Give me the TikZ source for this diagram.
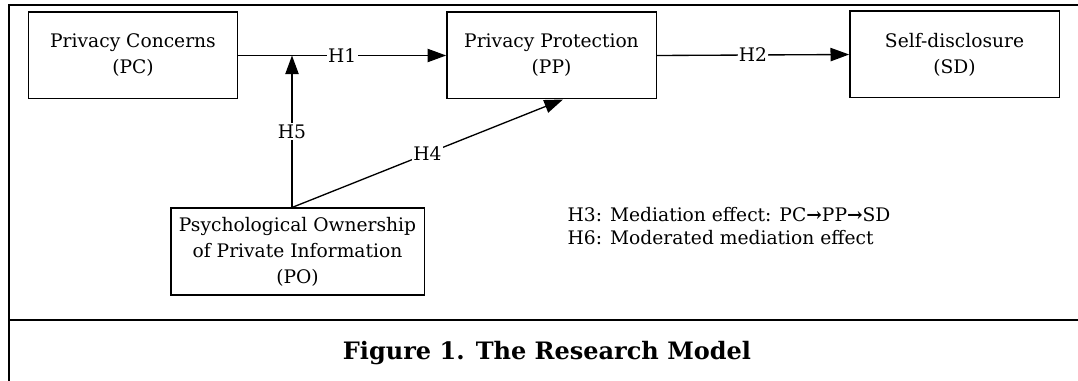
\documentclass[tikz,border=0pt]{standalone}
\usepackage{fontspec}
\setmainfont{DejaVu Serif}
\usetikzlibrary{arrows.meta,calc}

\begin{document}
\begin{tikzpicture}[x=0.75pt, y=-0.75pt, >={Triangle[length=14pt,width=10pt]},
  box/.style={draw, line width=1pt, align=center, inner sep=0pt,
    minimum width=157pt, minimum height=65pt, font=\fontsize{14}{19.5}\selectfont},
  hyp/.style={fill=white, inner sep=1pt, font=\fontsize{14}{16}\selectfont},
  link/.style={->, line width=1pt},
  frame/.style={line width=1.6pt}]
  \useasboundingbox (0,0) rectangle (1078,381);

  % Outer frame and caption rule
  \draw[frame] (1078,5) -- (9,5) -- (9,381);
  \draw[frame] (9,320) -- (1078,320);

  % Constructs
  \node[box] (pc) at (133,55.5) {Privacy Concerns\\(PC)};
  \node[box] (pp) at (551.5,55.5) {Privacy Protection\\(PP)};
  \node[box] (sd) at (954.5,54.5) {Self-disclosure\\(SD)};
  \node[box, minimum width=190pt] (po) at (297.5,251.5)
    {Psychological Ownership\\of Private Information\\(PO)};

  % Moderation point on H1 and source point on PO
  \coordinate (mod) at (292,55.5);
  \coordinate (pofrom) at (po.north -| mod);

  % Hypothesised paths
  \draw[link] (pc.east) -- node[hyp] {H1} (pp.west);
  \draw[link] (pp.east) -- node[hyp] {H2} (sd.west);
  \draw[link] (pofrom) -- node[hyp] {H5} (mod);
  \draw[link] (pofrom) -- node[hyp] {H4} ($(pp.south)+(11.5,0)$);

  % Notes
  \node[anchor=west, align=left, font=\fontsize{14}{17.5}\selectfont] (notes) at (563,226)
    {H3: Mediation effect: PC{\bfseries→}PP{\bfseries→}SD\\H6: Moderated mediation effect};

  % Caption
  \node[font=\fontsize{18}{22}\selectfont\bfseries] (caption) at (547,353)
    {Figure 1. The Research Model};
\end{tikzpicture}
\end{document}
